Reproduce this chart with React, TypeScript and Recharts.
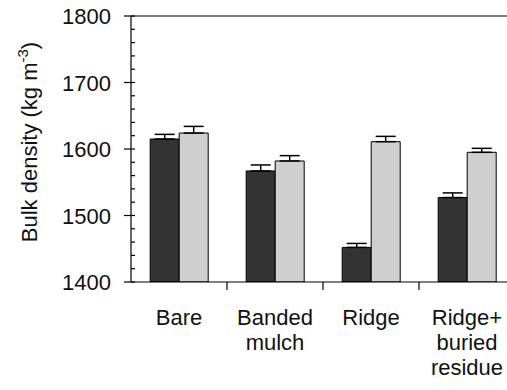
import { BarChart, Bar, XAxis, YAxis, ErrorBar, ReferenceLine } from "recharts";

const categories = ["Bare", "Banded mulch", "Ridge", "Ridge+ buried residue"];
const categoryLines = [["Bare"], ["Banded", "mulch"], ["Ridge"], ["Ridge+", "buried", "residue"]];
const darkValues = [1615, 1567, 1452, 1527];
const darkErrors = [7, 9, 6, 7];
const lightValues = [1624, 1582, 1611, 1595];
const lightErrors = [10, 8, 8, 6];
const majorTicks = [1400, 1500, 1600, 1700, 1800];

const minorTicks: number[] = [];
for (let v = 1400; v <= 1800; v += 20) minorTicks.push(v);

const data = categories.map((name, i) => ({
  name,
  lines: categoryLines[i],
  dark: darkValues[i],
  darkErr: [0, darkErrors[i]],
  light: lightValues[i],
  lightErr: [0, lightErrors[i]],
}));

const FONT = "'Liberation Sans', Arial, sans-serif";
const PLOT_LEFT = 131;
const PLOT_BOTTOM = 282;
const CHART_W = 515;
const BAND = (CHART_W - PLOT_LEFT) / categories.length;

const YTick = (props: any) => {
  const { y, payload } = props;
  const major = majorTicks.includes(payload.value);
  return (
    <g>
      <line
        x1={major ? PLOT_LEFT - 7 : PLOT_LEFT}
        x2={PLOT_LEFT + 4}
        y1={y}
        y2={y}
        stroke="#000"
        strokeWidth={1.2}
      />
      {major && (
        <text x={PLOT_LEFT - 20} y={y + 8} textAnchor="end" fontSize={22} fontFamily={FONT} fill="#111">
          {payload.value}
        </text>
      )}
    </g>
  );
};

const XTick = (props: any) => {
  const { x, index } = props;
  const lines = categoryLines[index] || [];
  return (
    <g>
      {index < categories.length - 1 && (
        <line x1={x + BAND / 2} x2={x + BAND / 2} y1={PLOT_BOTTOM} y2={PLOT_BOTTOM + 8} stroke="#000" strokeWidth={1.2} />
      )}
      {lines.map((t, k) => (
        <text key={k} x={x} y={325 + k * 25} textAnchor="middle" fontSize={22} fontFamily={FONT} fill="#111">
          {t}
        </text>
      ))}
    </g>
  );
};

const YLabel = () => (
  <text
    x={37}
    y={142}
    transform="rotate(-90, 37, 142)"
    textAnchor="middle"
    fontSize={22}
    fontFamily={FONT}
    fill="#111"
  >
    Bulk density (kg m
    <tspan dy={-9} fontSize={15}>-3</tspan>
    <tspan dy={9}>)</tspan>
  </text>
);

export default function App() {
  return (
    <div style={{ position: "absolute", left: 0, top: 0, width: 507, height: 390, overflow: "hidden", background: "#fff" }}>
      <BarChart
        width={CHART_W}
        height={390}
        data={data}
        margin={{ top: 16, right: 0, left: 31, bottom: 8 }}
        barCategoryGap="20%"
        barGap={0}
      >
        <XAxis
          dataKey="name"
          height={100}
          axisLine={{ stroke: "#000", strokeWidth: 1.2 }}
          tickLine={false}
          tick={<XTick />}
          interval={0}
        />
        <YAxis
          domain={[1400, 1800]}
          ticks={minorTicks}
          width={100}
          interval={0}
          allowDataOverflow
          axisLine={{ stroke: "#000", strokeWidth: 1.2 }}
          tickLine={false}
          tick={<YTick />}
          label={<YLabel />}
        />
        <ReferenceLine y={1800} stroke="#000" strokeWidth={1.2} />
        <Bar dataKey="dark" fill="#333" stroke="#000" strokeWidth={1} isAnimationActive={false}>
          <ErrorBar dataKey="darkErr" width={10} stroke="#000" strokeWidth={1.5} />
        </Bar>
        <Bar dataKey="light" fill="#cfcfcf" stroke="#000" strokeWidth={1} isAnimationActive={false}>
          <ErrorBar dataKey="lightErr" width={10} stroke="#000" strokeWidth={1.5} />
        </Bar>
      </BarChart>
    </div>
  );
}
